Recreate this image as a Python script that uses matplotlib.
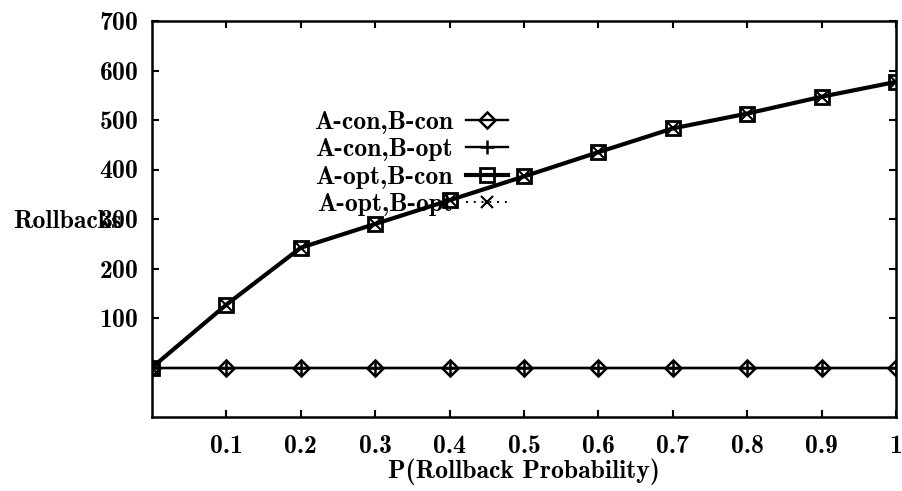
import matplotlib
matplotlib.use('Agg')
import matplotlib.pyplot as plt

plt.rcParams['font.family'] = ['cmb10', 'DejaVu Serif']
plt.rcParams['axes.formatter.use_mathtext'] = True

# values
prob = [0.0, 0.1, 0.2, 0.3, 0.4, 0.5, 0.6, 0.7, 0.8, 0.9, 1.0]
acon_bcon = [0, 0, 0, 0, 0, 0, 0, 0, 0, 0, 0]
acon_bopt = [0, 0, 0, 0, 0, 0, 0, 0, 0, 0, 0]
aopt_bcon = [0, 127, 242, 290, 338, 386, 435, 483, 513, 547, 577]
aopt_bopt = [0, 127, 242, 290, 338, 386, 435, 483, 513, 547, 577]

labels = ['A-con,B-con', 'A-con,B-opt', 'A-opt,B-con', 'A-opt,B-opt']
yticks = [100, 200, 300, 400, 500, 600, 700]
xticks = [0.1, 0.2, 0.3, 0.4, 0.5, 0.6, 0.7, 0.8, 0.9, 1.0]
xticklabels = ['0.1', '0.2', '0.3', '0.4', '0.5', '0.6', '0.7', '0.8', '0.9', '1']

FS = 18.5

fig = plt.figure(figsize=(9.03, 4.91), dpi=100)
ax = fig.add_axes([152 / 903, 1 - 417 / 491, 744 / 903, 396 / 491])

ax.plot(prob, acon_bcon, color='black', lw=1.7, marker='D', ms=8.5,
        mfc='none', mec='black', mew=1.8, label=labels[0])
ax.plot(prob, acon_bopt, color='black', lw=1.7, marker='+', ms=10,
        mew=1.8, label=labels[1])
ax.plot(prob, aopt_bcon, color='black', lw=3.0, marker='s', ms=10,
        mfc='none', mec='black', mew=2.0, label=labels[2])
ax.plot(prob, aopt_bopt, color='black', lw=1.4, ls=(0, (1, 3)), marker='x',
        ms=9, mew=1.5, label=labels[3])

ax.set_xlim(0, 1)
ax.set_ylim(-100, 700)
ax.set_xticks(xticks)
ax.set_xticklabels(xticklabels)
ax.set_yticks(yticks)
ax.tick_params(direction='in', length=5, width=1.5, labelsize=FS,
               top=True, right=True)
ax.tick_params(axis='x', pad=13)
ax.tick_params(axis='y', pad=10)
for s in ax.spines.values():
    s.set_linewidth(1.8)

ax.set_xlabel('P(Rollback Probability)', fontsize=FS, labelpad=0)
# the reference label runs into the 300 tick label; kept that way
ax.set_ylabel('Rollbacks', fontsize=FS, rotation=0, ha='left', va='center')
ax.yaxis.set_label_coords((13 - 152) / 744, (417 - 222) / 396)

ax.legend(loc='upper right', bbox_to_anchor=(508 / 903, 1 - 111 / 491),
          bbox_transform=fig.transFigure, frameon=False, markerfirst=False,
          fontsize=FS, handlelength=1.65, handletextpad=0.5,
          labelspacing=0.17, borderpad=0, borderaxespad=0)

fig.savefig('out.png', dpi=100)
